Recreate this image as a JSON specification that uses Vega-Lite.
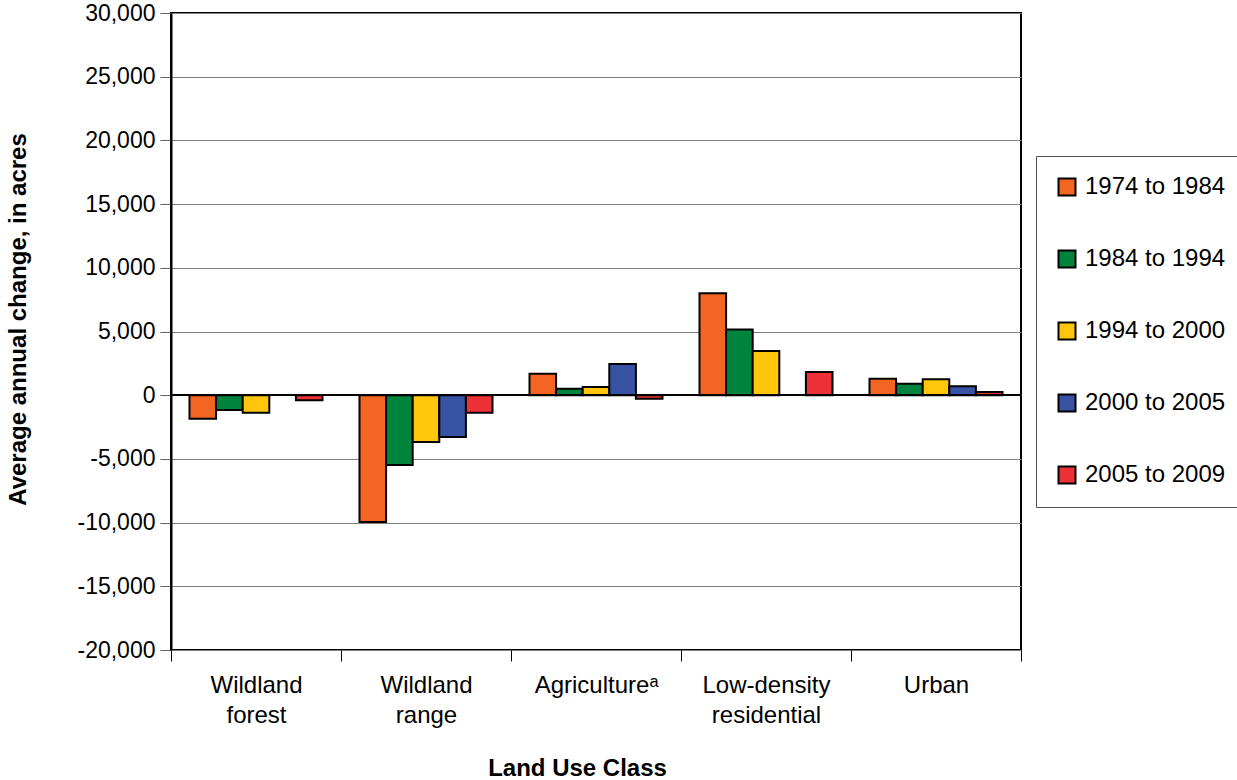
{
  "$schema": "https://vega.github.io/schema/vega-lite/v6.json",
  "width": 850,
  "height": 637,
  "autosize": {"type": "none"},
  "padding": {"left": 171, "top": 13, "right": 216, "bottom": 130},
  "background": "white",
  "config": {
    "font": "Liberation Sans",
    "view": {"stroke": "black", "strokeWidth": 2}
  },
  "data": {
    "values": [
      {"landUse": "Wildland forest", "period": "1974 to 1984", "change": -1850},
      {"landUse": "Wildland forest", "period": "1984 to 1994", "change": -1160},
      {"landUse": "Wildland forest", "period": "1994 to 2000", "change": -1380},
      {"landUse": "Wildland forest", "period": "2005 to 2009", "change": -400},
      {"landUse": "Wildland range", "period": "1974 to 1984", "change": -9950},
      {"landUse": "Wildland range", "period": "1984 to 1994", "change": -5470},
      {"landUse": "Wildland range", "period": "1994 to 2000", "change": -3670},
      {"landUse": "Wildland range", "period": "2000 to 2005", "change": -3280},
      {"landUse": "Wildland range", "period": "2005 to 2009", "change": -1380},
      {"landUse": "Agricultureᵃ", "period": "1974 to 1984", "change": 1690},
      {"landUse": "Agricultureᵃ", "period": "1984 to 1994", "change": 500},
      {"landUse": "Agricultureᵃ", "period": "1994 to 2000", "change": 650},
      {"landUse": "Agricultureᵃ", "period": "2000 to 2005", "change": 2450},
      {"landUse": "Agricultureᵃ", "period": "2005 to 2009", "change": -280},
      {"landUse": "Low-density residential", "period": "1974 to 1984", "change": 8000},
      {"landUse": "Low-density residential", "period": "1984 to 1994", "change": 5160},
      {"landUse": "Low-density residential", "period": "1994 to 2000", "change": 3470},
      {"landUse": "Low-density residential", "period": "2005 to 2009", "change": 1830},
      {"landUse": "Urban", "period": "1974 to 1984", "change": 1300},
      {"landUse": "Urban", "period": "1984 to 1994", "change": 890},
      {"landUse": "Urban", "period": "1994 to 2000", "change": 1250},
      {"landUse": "Urban", "period": "2000 to 2005", "change": 700},
      {"landUse": "Urban", "period": "2005 to 2009", "change": 260}
    ]
  },
  "layer": [
    {
      "mark": {"type": "bar", "stroke": "black", "strokeWidth": 2},
      "encoding": {
        "x": {
          "field": "landUse",
          "type": "nominal",
          "sort": ["Wildland forest", "Wildland range", "Agricultureᵃ", "Low-density residential", "Urban"],
          "scale": {"paddingInner": 0, "paddingOuter": 0},
          "axis": {
            "tickBand": "extent",
            "domain": false,
            "tickColor": "black",
            "tickSize": 11,
            "tickWidth": 1,
            "labelAngle": 0,
            "labelFontSize": 24,
            "labelColor": "black",
            "labelPadding": 12,
            "labelLineHeight": 30,
            "labelExpr": "split(datum.label, ' ')",
            "title": "Land Use Class",
            "titleFontSize": 24,
            "titleFontWeight": "bold",
            "titleColor": "black",
            "titleX": 406,
            "titleY": 125,
            "titleBaseline": "alphabetic",
            "titleAlign": "center"
          }
        },
        "xOffset": {
          "field": "period",
          "type": "nominal",
          "scale": {"domain": ["1974 to 1984", "1984 to 1994", "1994 to 2000", "2000 to 2005", "2005 to 2009"], "paddingInner": 0, "paddingOuter": 0.695}
        },
        "y": {
          "field": "change",
          "type": "quantitative",
          "scale": {"domain": [-20000, 30000], "nice": false, "zero": false},
          "axis": {
            "values": [-20000, -15000, -10000, -5000, 0, 5000, 10000, 15000, 20000, 25000, 30000],
            "labelExpr": "replace(format(datum.value, ','), '−', '-')",
            "grid": true,
            "gridColor": "#808080",
            "gridWidth": 1,
            "domainColor": "black",
            "domainWidth": 2,
            "tickColor": "#666666",
            "tickSize": 11,
            "labelPadding": 5,
            "labelFontSize": 23,
            "labelColor": "black",
            "title": "Average annual change, in acres",
            "titleFontSize": 24,
            "titleFontWeight": "bold",
            "titleColor": "black",
            "titleAngle": -90,
            "titleX": -146,
            "titleY": 306,
            "titleBaseline": "alphabetic",
            "titleAlign": "center"
          }
        },
        "color": {
          "field": "period",
          "type": "nominal",
          "scale": {
            "domain": ["1974 to 1984", "1984 to 1994", "1994 to 2000", "2000 to 2005", "2005 to 2009"],
            "range": ["#F26522", "#00843D", "#FFC60B", "#3953A4", "#ED3237"]
          },
          "legend": {
            "orient": "none",
            "legendX": 865,
            "legendY": 143,
            "title": null,
            "fillColor": "white",
            "strokeColor": "#555555",
            "padding": 19,
            "symbolType": "square",
            "symbolSize": 289,
            "symbolStrokeColor": "black",
            "symbolStrokeWidth": 2,
            "symbolOpacity": 1,
            "labelFontSize": 24,
            "labelColor": "black",
            "labelOffset": 6,
            "rowPadding": 46,
            "labelLimit": 300
          }
        }
      }
    },
    {
      "mark": {"type": "rule", "color": "black", "strokeWidth": 1.5},
      "encoding": {
        "y": {"datum": 0}
      }
    }
  ]
}
